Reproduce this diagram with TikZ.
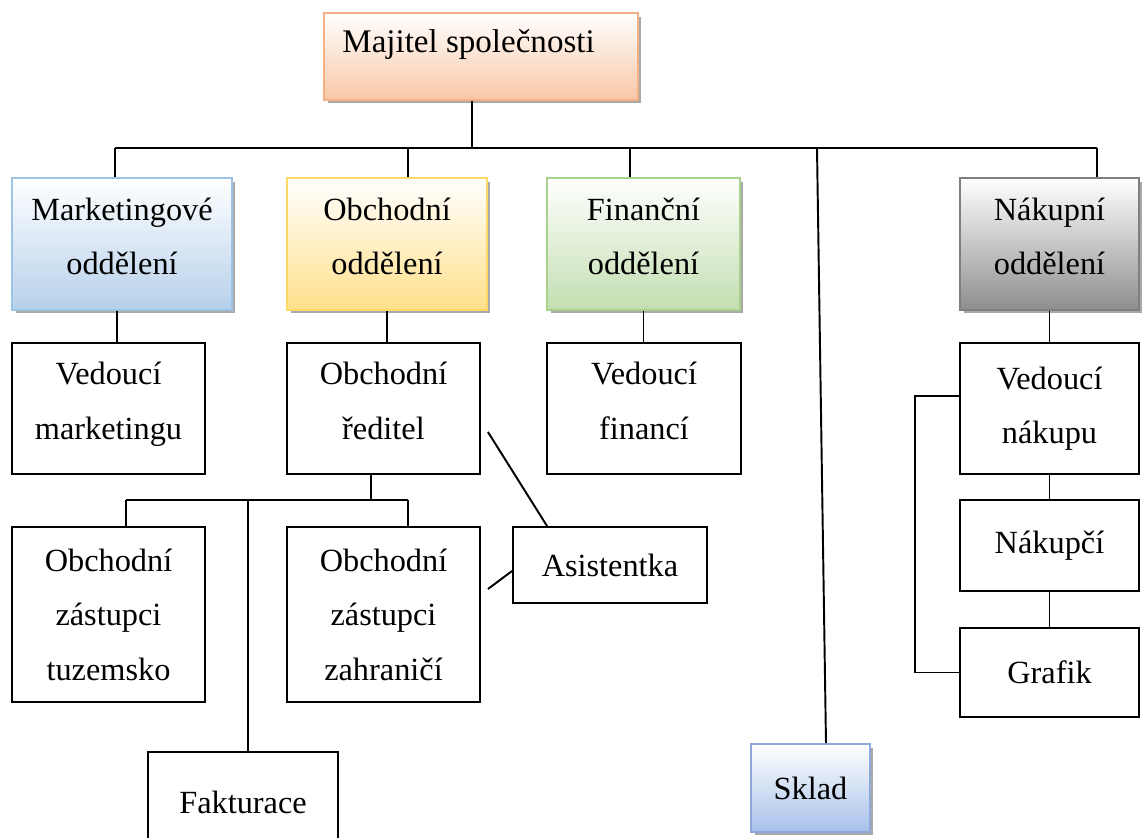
\documentclass[tikz,border=0pt]{standalone}
\usepackage{fontspec}
\setmainfont{Liberation Serif}
\usepackage{tikz}
\usetikzlibrary{positioning, calc, shadows}
\usepackage{xcolor}

\definecolor{ownerline}{HTML}{F4B183}
\definecolor{ownerfill}{HTML}{F8C7A6}
\definecolor{markline}{HTML}{9DC3E6}
\definecolor{markfill}{HTML}{B6D0EB}
\definecolor{salesline}{HTML}{FFD966}
\definecolor{salesfill}{HTML}{FFE08A}
\definecolor{finline}{HTML}{A9D18E}
\definecolor{finfill}{HTML}{C3DEB0}
\definecolor{buyline}{HTML}{7F7F7F}
\definecolor{buyfill}{HTML}{8E8E8E}
\definecolor{storeline}{HTML}{8EAADB}
\definecolor{storefill}{HTML}{A8C1EA}

\begin{document}
\begin{tikzpicture}[x=0.02cm, y=-0.02cm,
    orgbox/.style={draw, line width=1.1pt, align=center, inner sep=0pt,
        font=\fontsize{18.4}{31}\selectfont},
    dept/.style={orgbox, draw=#1line, top color=white, bottom color=#1fill,
        drop shadow={shadow xshift=0.07cm, shadow yshift=-0.07cm, fill=black!45, opacity=0.75}},
    raised/.style={text depth=9pt},
    conn/.style={line width=1.1pt}]
    \useasboundingbox (0,0) rectangle (1144,838);

    % Owner
    \node[dept=owner, minimum width=6.28cm, minimum height=1.74cm] (majitel) at (481,56.5) {};
    \node[anchor=west, inner sep=0pt, font=\fontsize{18.8}{31}\selectfont] (majtext)
        at ($(majitel.west)+(19,-12)$) {Majitel společnosti};

    % Departments
    \node[dept=mark, raised, minimum width=4.4cm, minimum height=2.64cm] (mark) at (122,244) {Marketingové\\oddělení};
    \node[dept=sales, raised, minimum width=4.0cm, minimum height=2.64cm] (obch) at (387,244) {Obchodní\\oddělení};
    \node[dept=fin, raised, minimum width=3.86cm, minimum height=2.64cm] (fin) at (643.5,244) {Finanční\\oddělení};
    \node[dept=buy, raised, minimum width=3.58cm, minimum height=2.64cm] (nak) at (1049.5,244) {Nákupní\\oddělení};
    \node[dept=store, minimum width=2.38cm, minimum height=1.76cm] (sklad) at (810.5,788) {Sklad};

    % Heads
    \node[orgbox, raised, minimum width=3.86cm, minimum height=2.62cm] (vmark) at (108.5,408.5) {Vedoucí\\marketingu};
    \node[orgbox, raised, minimum width=3.86cm, minimum height=2.62cm] (ored) at (383.5,408.5) {Obchodní\\ředitel};
    \node[orgbox, raised, minimum width=3.88cm, minimum height=2.62cm] (vfin) at (644,408.5) {Vedoucí\\financí};
    \node[orgbox, minimum width=3.58cm, minimum height=2.62cm] (vnak) at (1049.5,408.5) {Vedoucí\\nákupu};

    % Sales staff
    \node[orgbox, minimum width=3.86cm, minimum height=3.5cm] (ztuz) at (108.5,614.5) {Obchodní\\zástupci\\tuzemsko};
    \node[orgbox, minimum width=3.86cm, minimum height=3.5cm] (zzah) at (383.5,614.5) {Obchodní\\zástupci\\zahraničí};
    \node[orgbox, minimum width=3.88cm, minimum height=1.52cm] (asist) at (610,565) {Asistentka};
    \node[orgbox, minimum width=3.8cm, minimum height=2.0cm] (faktur) at (243,802) {Fakturace};

    % Purchasing staff
    \node[orgbox, minimum width=3.58cm, minimum height=1.82cm] (nakupci) at (1049.5,545.5) {Nákupčí};
    \node[orgbox, minimum width=3.58cm, minimum height=1.78cm] (grafik) at (1049.5,672.5) {Grafik};

    % Owner to departments
    \coordinate (b0) at (472,148);
    \coordinate (b1) at (115,148);
    \coordinate (b2) at (408,148);
    \coordinate (b3) at (630,148);
    \coordinate (b4) at (817,148);
    \coordinate (b5) at (1097,148);
    \draw[conn] (b0 |- majitel.south) -- (b0);
    \draw[conn] (b1) -- (b5);
    \draw[conn] (b1) -- (b1 |- mark.north);
    \draw[conn] (b2) -- (b2 |- obch.north);
    \draw[conn] (b3) -- (b3 |- fin.north);
    \draw[conn] (b5) -- (b5 |- nak.north);
    \draw[conn] (b4) -- ([xshift=0.31cm]sklad.north);

    % Departments to heads
    \draw[conn] ([xshift=-0.1cm]mark.south) -- ([xshift=0.17cm]vmark.north);
    \draw[conn] (obch.south) -- (obch.south |- ored.north);
    \draw[conn] (fin.south) -- (fin.south |- vfin.north);
    \draw[conn] (nak.south) -- (nak.south |- vnak.north);

    % Sales director to staff
    \coordinate (s0) at (371,500);
    \coordinate (s1) at (126,500);
    \coordinate (s2) at (408,500);
    \coordinate (s3) at (248,500);
    \draw[conn] (ored.south -| s0) -- (s0);
    \draw[conn] (s1) -- (s2);
    \draw[conn] (s1) -- (s1 |- ztuz.north);
    \draw[conn] (s2) -- (s2 |- zzah.north);
    \draw[conn] (s3) -- (s3 |- faktur.north);
    \draw[conn] ([xshift=0.14cm, yshift=-0.47cm]ored.east) -- ([xshift=0.7cm]asist.north west);
    \draw[conn] ([xshift=0.14cm, yshift=0.51cm]zzah.east) -- ([yshift=-0.12cm]asist.west);

    % Purchasing
    \draw[conn] (vnak.south) -- (nakupci.north);
    \draw[conn] (nakupci.south) -- (grafik.north);
    \draw[conn] ([yshift=0.25cm]vnak.west) -- ++(-44,0) |- (grafik.west);
\end{tikzpicture}
\end{document}
